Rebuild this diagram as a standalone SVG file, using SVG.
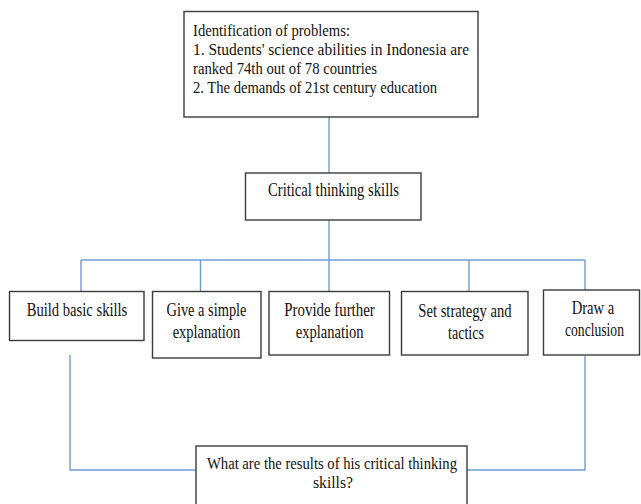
<svg xmlns="http://www.w3.org/2000/svg" width="641" height="504" viewBox="0 0 641 504">
<style>
.box{fill:#fff;stroke:#3a3a3a;stroke-width:1.4}
.ln{fill:none;stroke:#6f9bd6;stroke-width:1.4}
text{font-family:"Liberation Serif","Times New Roman",serif;fill:#111;font-size:18px}
.t{font-size:16px}
.r{font-size:17px}
.c{text-anchor:middle}
</style>
<rect width="641" height="504" fill="#fff"/>
<g id="connectors">
<path class="ln" d="M329,117V173"/>
<path class="ln" d="M329,220V260"/>
<path class="ln" d="M81,260H585"/>
<path class="ln" d="M81,260V291.5M200.5,260V291.5M329,260V291.5M469,260V291.5M585,260V290"/>
<path class="ln" d="M70,355V470H196"/>
<path class="ln" d="M585,356V470H467"/>
</g>
<g id="problems">
<rect class="box" x="184" y="11.5" width="294" height="105.5"/>
<text class="t" x="193" y="36" textLength="157" lengthAdjust="spacingAndGlyphs">Identification of problems:</text>
<text class="t" x="193" y="55" textLength="276" lengthAdjust="spacingAndGlyphs">1.  Students'  science  abilities  in  Indonesia  are</text>
<text class="t" x="193" y="74" textLength="184" lengthAdjust="spacingAndGlyphs">ranked 74th out of 78 countries</text>
<text class="t" x="193" y="93" textLength="244" lengthAdjust="spacingAndGlyphs">2. The demands of 21st century education</text>
</g>
<g id="critical">
<rect class="box" x="245.5" y="173" width="175.5" height="47"/>
<text class="c" x="333.5" y="196" textLength="131" lengthAdjust="spacingAndGlyphs">Critical thinking skills</text>
</g>
<g id="build">
<rect class="box" x="9.5" y="291.5" width="134.5" height="49"/>
<text class="c" x="77" y="315.5" textLength="100.6" lengthAdjust="spacingAndGlyphs">Build basic skills</text>
</g>
<g id="give">
<rect class="box" x="152.5" y="291.5" width="108.5" height="66.5"/>
<text class="c" x="206.5" y="315.5" textLength="80" lengthAdjust="spacingAndGlyphs">Give a simple</text>
<text class="c" x="206.5" y="337.5" textLength="67.7" lengthAdjust="spacingAndGlyphs">explanation</text>
</g>
<g id="provide">
<rect class="box" x="269" y="291.5" width="120.5" height="63.5"/>
<text class="c" x="329.5" y="315.5" textLength="90.4" lengthAdjust="spacingAndGlyphs">Provide further</text>
<text class="c" x="329.7" y="337.5" textLength="67.8" lengthAdjust="spacingAndGlyphs">explanation</text>
</g>
<g id="strategy">
<rect class="box" x="401.5" y="291.5" width="126.5" height="63.5"/>
<text class="c" x="465" y="316.5" textLength="93.3" lengthAdjust="spacingAndGlyphs">Set strategy and</text>
<text class="c" x="466" y="338.5" textLength="36" lengthAdjust="spacingAndGlyphs">tactics</text>
</g>
<g id="conclusion">
<rect class="box" x="543.5" y="290" width="96" height="65"/>
<text class="c" x="593" y="313.5" textLength="42.6" lengthAdjust="spacingAndGlyphs">Draw a</text>
<text class="c" x="594.5" y="335.5" textLength="59" lengthAdjust="spacingAndGlyphs">conclusion</text>
</g>
<g id="results">
<rect class="box" x="196" y="446" width="271" height="70"/>
<text class="c r" x="332" y="469" textLength="250" lengthAdjust="spacingAndGlyphs">What are the results of his critical thinking</text>
<text class="c r" x="333" y="488" textLength="40" lengthAdjust="spacingAndGlyphs">skills?</text>
</g>
</svg>
